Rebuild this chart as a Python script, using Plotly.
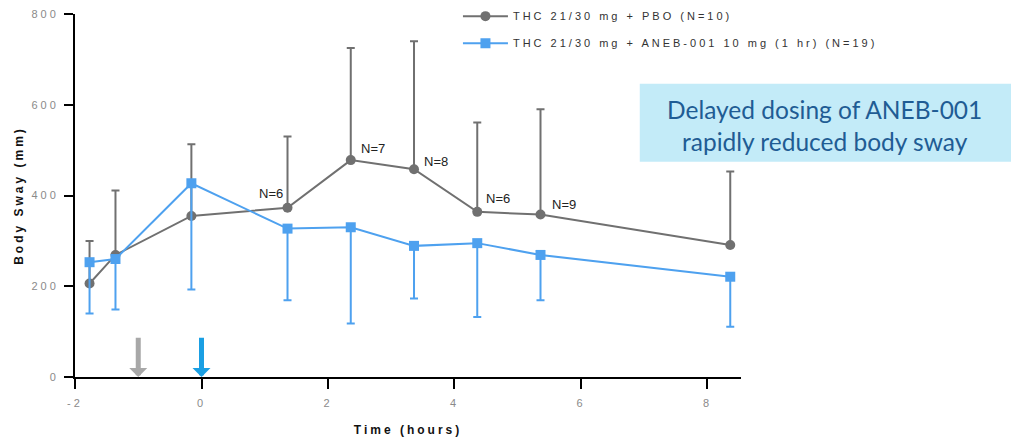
import plotly.graph_objects as go

# ---- data ----
time_h = [-1.77, -1.36, -0.16, 1.36, 2.36, 3.36, 4.36, 5.36, 8.36]
pbo_mean = [206, 269, 355, 373, 478, 458, 364, 358, 291]
pbo_err_up = [94, 142, 158, 157, 247, 282, 197, 232, 162]
aneb_mean = [253, 260, 427, 327, 330, 289, 295, 269, 221]
aneb_err_down = [113, 111, 234, 158, 212, 116, 163, 100, 110]
zeros = [0] * len(time_h)

n_label_idx = [3, 4, 5, 6, 7]
n_labels = ["N=6", "N=7", "N=8", "N=6", "N=9"]

dose_times = [-1, 0]
dose_colors = ["#a8a8a8", "#1a9fe3"]
arrow_len = 90

x_ticks = [-2, 0, 2, 4, 6, 8]
y_ticks = [0, 200, 400, 600, 800]

name_pbo = "THC 21/30 mg + PBO (N=10)"
name_aneb = "THC 21/30 mg + ANEB-001 10 mg (1 hr) (N=19)"
callout_lines = ["Delayed dosing of ANEB-001", "rapidly reduced body sway"]

GREY = "#707070"
BLUE = "#4ea1ef"


def spaced(t, px=2):
    return f'<span style="letter-spacing:{px}px">{t}</span>'


fig = go.Figure()
fig.add_trace(go.Scatter(
    x=time_h, y=pbo_mean, mode="lines+markers", name=spaced(name_pbo, 3),
    legendgroup="a",
    line=dict(color=GREY, width=2),
    marker=dict(symbol="circle", size=10, color=GREY),
    error_y=dict(type="data", symmetric=False, array=pbo_err_up, arrayminus=zeros,
                 color=GREY, thickness=2, width=4),
))
fig.add_trace(go.Scatter(
    x=time_h, y=aneb_mean, mode="lines+markers", name=spaced(name_aneb, 3),
    legendgroup="b",
    line=dict(color=BLUE, width=2),
    marker=dict(symbol="square", size=10, color=BLUE),
    error_y=dict(type="data", symmetric=False, array=zeros, arrayminus=aneb_err_down,
                 color=BLUE, thickness=2, width=4),
))

# N labels
shifts = [(-3, 14, "right"), (8, 12, "left"), (8, 8, "left"), (7, 13, "left"), (9, 10, "left")]
for i, lab, (dx, dy, anc) in zip(n_label_idx, n_labels, shifts):
    fig.add_annotation(x=time_h[i], y=pbo_mean[i], text=lab, showarrow=False,
                       xanchor=anc, yanchor="middle", xshift=dx, yshift=dy,
                       font=dict(family="Liberation Sans, Arial", size=13, color="#222222"))

# dosing arrows
for t, c in zip(dose_times, dose_colors):
    fig.add_annotation(x=t, y=0, ax=t, ay=arrow_len, axref="x", ayref="y",
                       xref="x", yref="y", text="", showarrow=True,
                       arrowhead=1, arrowsize=0.6, arrowwidth=5, arrowcolor=c,
                       standoff=0, startstandoff=0)

# callout box
fig.add_shape(type="rect", xref="paper", yref="paper",
              x0=0.848, x1=1.41, y0=0.593, y1=0.808,
              fillcolor="#c3ebf8", line=dict(width=0), layer="below")
for k, line in enumerate(callout_lines):
    fig.add_annotation(xref="paper", yref="paper", x=1.126, y=0.736 - k * 0.088,
                       text=line, showarrow=False, xanchor="center", yanchor="middle",
                       font=dict(family="Lato", size=24.5, color="#1f5c94"))

tickfont = dict(family="Liberation Sans, Arial", size=11, color="#8a8a8a")
fig.update_xaxes(range=[-2, 8.53], tickvals=x_ticks,
                 ticktext=[spaced(str(v), 3) for v in x_ticks],
                 ticks="outside", ticklen=10, tickwidth=2, tickcolor="black",
                 showline=True, linewidth=2, linecolor="black",
                 showgrid=False, zeroline=False, tickfont=tickfont,
                 ticklabelstandoff=5, ticklabeloverflow="allow",
                 title=dict(text="<b>" + spaced("Time (hours)", 3) + "</b>", standoff=17,
                            font=dict(family="Liberation Sans, Arial", size=12, color="#111111")))
fig.update_yaxes(range=[0, 800], tickvals=y_ticks,
                 ticktext=[spaced(str(v), 3) for v in y_ticks],
                 ticks="outside", ticklen=9, tickwidth=2, tickcolor="black",
                 showline=True, linewidth=2, linecolor="black",
                 showgrid=False, zeroline=False, tickfont=tickfont,
                 ticklabelstandoff=3, ticklabeloverflow="allow",
                 title=dict(text="<b>" + spaced("Body Sway (mm)", 3) + "</b>", standoff=5,
                            font=dict(family="Liberation Sans, Arial", size=12, color="#111111")))

fig.update_layout(
    width=1011, height=445,
    margin=dict(l=75, r=270, t=14, b=68, autoexpand=False),
    paper_bgcolor="white", plot_bgcolor="white",
    showlegend=True,
    legend=dict(x=0.575, y=1.034, xanchor="left", yanchor="top",
                tracegroupgap=8, bgcolor="rgba(0,0,0,0)", itemwidth=45,
                font=dict(family="Liberation Sans, Arial", size=11, color="#333333")),
)

fig.write_html("out.html", config={"displayModeBar": False},
               post_script="document.body.style.margin='0';document.body.style.overflow='hidden';")
